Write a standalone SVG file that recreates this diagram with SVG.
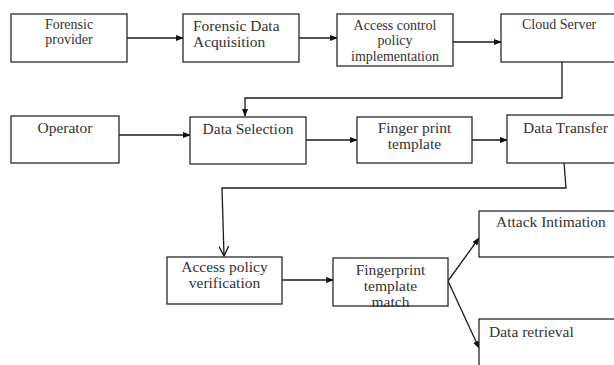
<svg xmlns="http://www.w3.org/2000/svg" width="614" height="365" viewBox="0 0 614 365">
<style>
.box{fill:#fff;stroke:#2a2a2a;stroke-width:1.3}
.t{font-family:"Liberation Serif","Times New Roman",serif;fill:#333;font-size:15.5px}
.s{font-size:14px}
.c{text-anchor:middle}
.ln{fill:none;stroke:#1a1a1a;stroke-width:1.3}
</style>
<defs>
<marker id="a" markerWidth="8" markerHeight="8" refX="7" refY="4" orient="auto" markerUnits="userSpaceOnUse">
<path d="M0,1 L8,4 L0,7 Z" fill="#111"/>
</marker>
<marker id="v" markerWidth="12" markerHeight="10" refX="10" refY="5" orient="auto" markerUnits="userSpaceOnUse">
<path d="M0,0 L10,5 L0,10" fill="none" stroke="#111" stroke-width="1.3"/>
</marker>
</defs>
<rect width="614" height="365" fill="#fff"/>
<g id="connectors">
<line class="ln" x1="127" y1="38" x2="183" y2="38" marker-end="url(#a)"/>
<line class="ln" x1="299" y1="38" x2="337" y2="38" marker-end="url(#a)"/>
<line class="ln" x1="453" y1="42" x2="501" y2="42" marker-end="url(#a)"/>
<polyline class="ln" points="562,62 562,98 245,98 245,116" marker-end="url(#a)"/>
<line class="ln" x1="119" y1="135" x2="190" y2="135" marker-end="url(#a)"/>
<line class="ln" x1="306" y1="140" x2="357" y2="140" marker-end="url(#a)"/>
<line class="ln" x1="472" y1="140" x2="507" y2="140" marker-end="url(#a)"/>
<polyline class="ln" points="564,163 566,188 222,188 224,256" marker-end="url(#v)"/>
<line class="ln" x1="282" y1="280" x2="333" y2="280" marker-end="url(#a)"/>
<line class="ln" x1="448" y1="281" x2="479" y2="238" marker-end="url(#a)"/>
<line class="ln" x1="448" y1="281" x2="479" y2="348" marker-end="url(#a)"/>
</g>
<g id="forensic-provider">
<rect class="box" x="11" y="14" width="116" height="48"/>
<text class="t s c" x="69" y="29">Forensic</text>
<text class="t s c" x="69" y="44">provider</text>
</g>
<g id="forensic-data-acquisition">
<rect class="box" x="183" y="14" width="116" height="48"/>
<text class="t" x="193" y="31">Forensic Data</text>
<text class="t" x="193" y="47">Acquisition</text>
</g>
<g id="access-control">
<rect class="box" x="337" y="14" width="116" height="52"/>
<text class="t s c" x="395" y="30">Access control</text>
<text class="t s c" x="395" y="45">policy</text>
<text class="t s c" x="395" y="61">implementation</text>
</g>
<g id="cloud-server">
<rect class="box" x="501" y="14" width="120" height="48"/>
<text class="t s" x="522" y="29">Cloud Server</text>
</g>
<g id="operator">
<rect class="box" x="11" y="116" width="108" height="47"/>
<text class="t c" x="65" y="133">Operator</text>
</g>
<g id="data-selection">
<rect class="box" x="190" y="117" width="116" height="47"/>
<text class="t c" x="248" y="134">Data Selection</text>
</g>
<g id="finger-print-template">
<rect class="box" x="357" y="117" width="115" height="46"/>
<text class="t c" x="414.5" y="133">Finger print</text>
<text class="t c" x="414.5" y="149">template</text>
</g>
<g id="data-transfer">
<rect class="box" x="507" y="115" width="115" height="48"/>
<text class="t" x="523" y="133">Data Transfer</text>
</g>
<g id="access-policy-verification">
<rect class="box" x="167" y="257" width="115" height="47"/>
<text class="t c" x="224.5" y="272">Access policy</text>
<text class="t c" x="224.5" y="288">verification</text>
</g>
<g id="fingerprint-template-match">
<rect class="box" x="333" y="258" width="115" height="48"/>
<text class="t c" x="390.5" y="275">Fingerprint</text>
<text class="t c" x="390.5" y="291">template</text>
<text class="t c" x="390.5" y="307">match</text>
</g>
<g id="attack-intimation">
<rect class="box" x="479" y="211" width="140" height="46"/>
<text class="t" x="496" y="227">Attack Intimation</text>
</g>
<g id="data-retrieval">
<rect class="box" x="479" y="319" width="140" height="60"/>
<text class="t" x="489" y="337">Data retrieval</text>
</g>
</svg>
